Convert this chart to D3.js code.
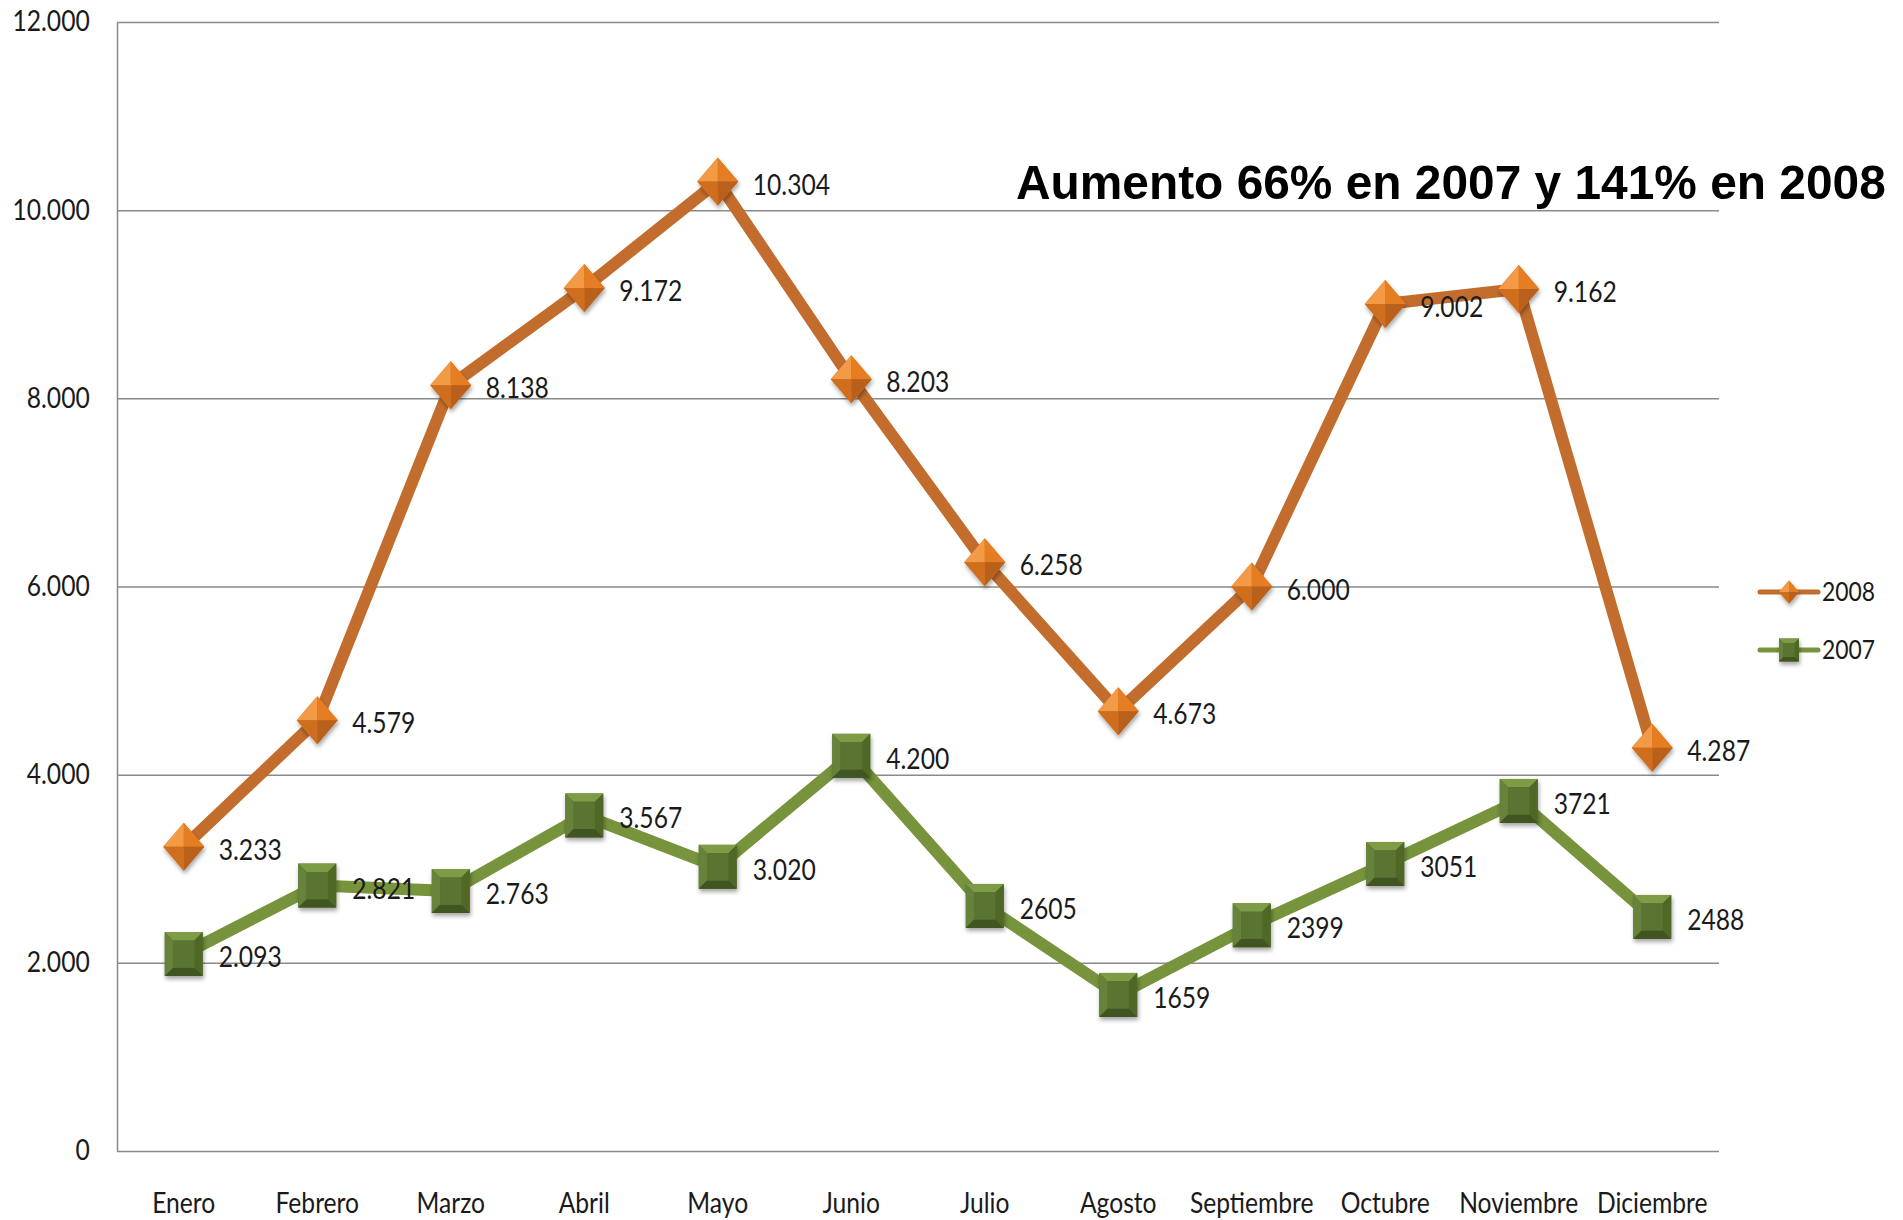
<!DOCTYPE html>
<html>
<head>
<meta charset="utf-8">
<script src="https://cdn.jsdelivr.net/npm/d3@7"></script>
<style>
  html, body { margin: 0; padding: 0; background: #ffffff; }
  svg { display: block; }
</style>
</head>
<body>
<svg id="chart" width="1903" height="1220"></svg>
<script>
// ---------- DATA ----------
const months = ["Enero","Febrero","Marzo","Abril","Mayo","Junio","Julio","Agosto","Septiembre","Octubre","Noviembre","Diciembre"];
const values2008 = [3233, 4579, 8138, 9172, 10304, 8203, 6258, 4673, 6000, 9002, 9162, 4287];
const values2007 = [2093, 2821, 2763, 3567, 3020, 4200, 2605, 1659, 2399, 3051, 3721, 2488];
const labels2008 = ["3.233","4.579","8.138","9.172","10.304","8.203","6.258","4.673","6.000","9.002","9.162","4.287"];
const labels2007 = ["2.093","2.821","2.763","3.567","3.020","4.200","2605","1659","2399","3051","3721","2488"];
const yTickValues = [0, 2000, 4000, 6000, 8000, 10000, 12000];
const yTickLabels = ["0","2.000","4.000","6.000","8.000","10.000","12.000"];
const seriesNames = ["2008", "2007"];
const titleText = "Aumento 66% en 2007 y 141% en 2008";

// ---------- LAYOUT ----------
const plotLeft = 117, plotRight = 1719, plotTop = 22, plotBottom = 1151;
const SX = 0.88; // horizontal squeeze of the original picture's text
const fontFam = "Lato, 'Open Sans', sans-serif";
const orangeLine = "#C26D2D", greenLine = "#77933C";

const svg = d3.select("#chart");
const defs = svg.append("defs");
const f = defs.append("filter").attr("id","shadow").attr("x","-50%").attr("y","-50%").attr("width","200%").attr("height","200%");
f.append("feDropShadow").attr("dx",1).attr("dy",3).attr("stdDeviation",2.2).attr("flood-color","#000").attr("flood-opacity",0.35);

const x = d3.scaleBand().domain(months).range([plotLeft, plotRight]);
const y = d3.scaleLinear().domain([0, 12000]).range([plotBottom, plotTop]);
const cx = m => x(m) + x.bandwidth() / 2;

// ---------- Y AXIS + GRID ----------
const yAxis = d3.axisLeft(y)
  .tickValues(yTickValues)
  .tickSize(-(plotRight - plotLeft))
  .tickSizeOuter(0)
  .tickPadding(31)
  .tickFormat((d, i) => yTickLabels[i]);
const gy = svg.append("g").attr("transform", `translate(${plotLeft},0)`).call(yAxis);
gy.select(".domain").attr("stroke", "#8a8a8a").attr("stroke-width", 1.5);
gy.selectAll(".tick line").attr("stroke", "#8a8a8a").attr("stroke-width", 1.5);
gy.selectAll(".tick text")
  .attr("font-family", fontFam).attr("font-size", 28).attr("fill", "#1a1a1a")
  .attr("transform", `scale(${SX},1)`);

// ---------- X AXIS ----------
const xAxis = d3.axisBottom(x).tickSize(0).tickPadding(42);
const gx = svg.append("g").attr("transform", `translate(0,${plotBottom})`).call(xAxis);
gx.select(".domain").remove();
gx.selectAll(".tick text")
  .attr("font-family", fontFam).attr("font-size", 28).attr("fill", "#1a1a1a")
  .attr("transform", `scale(${SX},1)`);

// ---------- MARKERS ----------
function diamond(g, w, h) {
  const hw = w / 2, hh = h / 2;
  const faces = [
    [[0,0],[-hw,0],[0,-hh], "#F29A45"],
    [[0,0],[0,-hh],[hw,0], "#E57E22"],
    [[0,0],[hw,0],[0,hh], "#B9601A"],
    [[0,0],[0,hh],[-hw,0], "#CF6E1F"]
  ];
  const gg = g.append("g").attr("filter", "url(#shadow)");
  gg.append("path").attr("d", `M0,${-hh}L${hw},0L0,${hh}L${-hw},0Z`).attr("fill", "#D9731F");
  faces.forEach(fc => {
    gg.append("path").attr("d", `M${fc[0]}L${fc[1]}L${fc[2]}Z`).attr("fill", fc[3]);
  });
}
function square(g, w, h) {
  const hw = w / 2, hh = h / 2, b = Math.min(w, h) * 0.22;
  const gg = g.append("g").attr("filter", "url(#shadow)");
  gg.append("rect").attr("x", -hw).attr("y", -hh).attr("width", w).attr("height", h).attr("fill", "#56702C");
  gg.append("path").attr("d", `M${-hw},${-hh}L${hw},${-hh}L${hw-b},${-hh+b}L${-hw+b},${-hh+b}Z`).attr("fill", "#7E9C45");
  gg.append("path").attr("d", `M${-hw},${-hh}L${-hw+b},${-hh+b}L${-hw+b},${hh-b}L${-hw},${hh}Z`).attr("fill", "#66823A");
  gg.append("path").attr("d", `M${hw},${-hh}L${hw},${hh}L${hw-b},${hh-b}L${hw-b},${-hh+b}Z`).attr("fill", "#4F6828");
  gg.append("path").attr("d", `M${-hw},${hh}L${-hw+b},${hh-b}L${hw-b},${hh-b}L${hw},${hh}Z`).attr("fill", "#405520");
  gg.append("rect").attr("x", -hw+b).attr("y", -hh+b).attr("width", w-2*b).attr("height", h-2*b).attr("fill", "#5A7430");
}

// ---------- SERIES ----------
const line = d3.line().x((d, i) => cx(months[i])).y(d => y(d));

function drawSeries(values, labels, color, markerFn, mw, mh) {
  const g = svg.append("g");
  g.append("path").datum(values).attr("d", line)
    .attr("fill", "none").attr("stroke", color).attr("stroke-width", 12)
    .attr("stroke-linejoin", "round").attr("stroke-linecap", "round");
  values.forEach((v, i) => {
    const mg = g.append("g").attr("transform", `translate(${cx(months[i])},${y(v)})`);
    markerFn(mg, mw, mh);
  });
  values.forEach((v, i) => {
    g.append("text")
      .attr("transform", `translate(${cx(months[i]) + 35},${y(v) + 13}) scale(${SX},1)`)
      .attr("font-family", fontFam).attr("font-size", 28).attr("fill", "#1a1a1a")
      .text(labels[i]);
  });
}
drawSeries(values2007, labels2007, greenLine, square, 38, 44);
drawSeries(values2008, labels2008, orangeLine, diamond, 41, 48);

// ---------- LEGEND ----------
const legend = [
  { name: seriesNames[0], color: orangeLine, fn: diamond, ly: 592 },
  { name: seriesNames[1], color: greenLine, fn: square, ly: 650 }
];
legend.forEach(L => {
  const g = svg.append("g");
  g.append("line").attr("x1", 1760).attr("x2", 1818).attr("y1", L.ly).attr("y2", L.ly)
    .attr("stroke", L.color).attr("stroke-width", 5).attr("stroke-linecap", "round");
  const mg = g.append("g").attr("transform", `translate(1789,${L.ly})`);
  L.fn(mg, 20, 23);
  g.append("text").attr("transform", `translate(1822,${L.ly + 9}) scale(${SX},1)`)
    .attr("font-family", fontFam).attr("font-size", 26).attr("fill", "#1a1a1a")
    .text(L.name);
});

// ---------- TITLE ----------
const title = svg.append("text")
  .attr("font-family", "'Liberation Sans', Arial, sans-serif")
  .attr("font-weight", "bold").attr("font-size", 49).attr("fill", "#000")
  .text(titleText);
const natural = title.node().getComputedTextLength() || 960;
const tScale = 870 / natural;
title.attr("transform", `translate(1016,199) scale(${tScale},1)`);
</script>
</body>
</html>
